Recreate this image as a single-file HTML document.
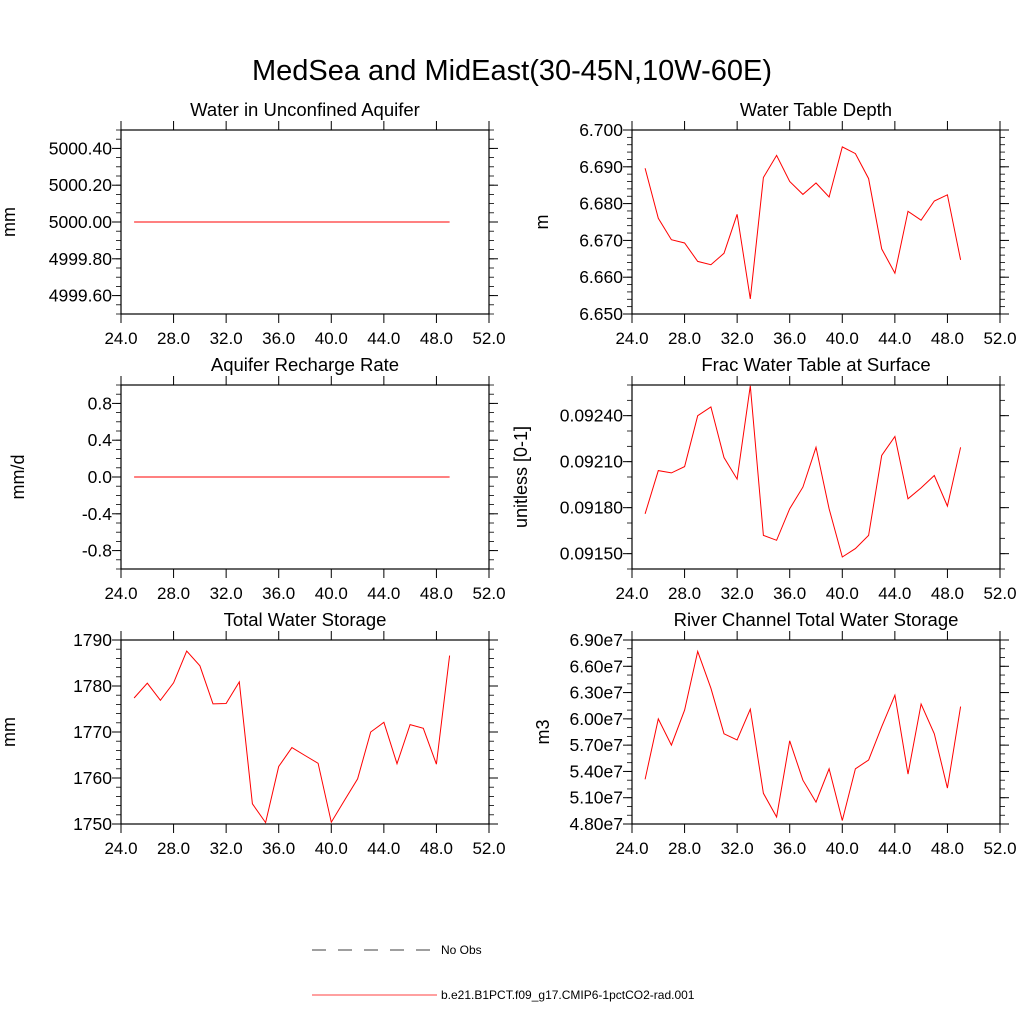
<!DOCTYPE html>
<html><head><meta charset="utf-8"><style>
body{margin:0;background:#fff;}
svg{font-family:"Liberation Sans",sans-serif;}
</style></head><body>
<svg id="c" width="1024" height="1024" viewBox="0 0 1024 1024">
<text x="512" y="80" text-anchor="middle" font-size="29">MedSea and MidEast(30-45N,10W-60E)</text>
<g>
<line x1="312" y1="950" x2="437" y2="950" stroke="#000" stroke-width="0.8" stroke-dasharray="14,12"/>
<text x="441" y="954" font-size="12">No Obs</text>
<line x1="312" y1="995" x2="437" y2="995" stroke="red" stroke-width="0.8"/>
<text x="441" y="999" font-size="12">b.e21.B1PCT.f09_g17.CMIP6-1pctCO2-rad.001</text>
</g>
</svg>
<script>
const years=[25,26,27,28,29,30,31,32,33,34,35,36,37,38,39,40,41,42,43,44,45,46,47,48,49];
const xTicks=[24,28,32,36,40,44,48,52];
const unconfined=[5000,5000,5000,5000,5000,5000,5000,5000,5000,5000,5000,5000,5000,5000,5000,5000,5000,5000,5000,5000,5000,5000,5000,5000,5000];
const unconfinedTicks=[4999.6,4999.8,5000.0,5000.2,5000.4];
const wtd=[6.6896,6.6760,6.6702,6.6693,6.6643,6.6634,6.6665,6.6771,6.6541,6.6871,6.6931,6.6860,6.6825,6.6856,6.6818,6.6954,6.6936,6.6868,6.6677,6.6611,6.6779,6.6755,6.6807,6.6824,6.6647];
const wtdTicks=[6.650,6.660,6.670,6.680,6.690,6.700];
const recharge=[0,0,0,0,0,0,0,0,0,0,0,0,0,0,0,0,0,0,0,0,0,0,0,0,0];
const rechargeTicks=[-0.8,-0.4,0.0,0.4,0.8];
const fracWt=[0.091760,0.092042,0.092027,0.092068,0.092400,0.092457,0.092127,0.091986,0.092595,0.091619,0.091587,0.091793,0.091934,0.092194,0.091793,0.091478,0.091533,0.091619,0.092140,0.092264,0.091858,0.091929,0.092010,0.091810,0.092194];
const fracTicks=[0.0915,0.0918,0.0921,0.0924];
const tws=[1777.4,1780.6,1776.9,1780.7,1787.6,1784.4,1776.1,1776.2,1780.9,1754.4,1750.3,1762.5,1766.6,1764.9,1763.2,1750.4,1755.1,1759.8,1770.0,1772.1,1763.1,1771.6,1770.8,1763.0,1786.6];
const twsTicks=[1750,1760,1770,1780,1790];
const river=[5.31,6.00,5.70,6.10,6.77,6.35,5.83,5.76,6.11,5.15,4.88,5.75,5.30,5.05,5.43,4.84,5.43,5.53,5.91,6.27,5.37,6.17,5.83,5.21,6.14];
const riverTicks=[4.8,5.1,5.4,5.7,6.0,6.3,6.6,6.9];

const NS="http://www.w3.org/2000/svg";
const svg=document.getElementById('c');
function mk(tag,attrs,parent){const e=document.createElementNS(NS,tag);for(const k in attrs)e.setAttribute(k,attrs[k]);(parent||svg).appendChild(e);return e;}

const panels=[
 {key:'unconfined-aquifer',title:'Water in Unconfined Aquifer',ylab:'mm',yx:15,data:unconfined,ticks:unconfinedTicks,ymin:4999.5,ymax:5000.5,minor:0.05,fmt:v=>v.toFixed(2),x0:121,y0:130},
 {key:'water-table-depth',title:'Water Table Depth',ylab:'m',yx:548,data:wtd,ticks:wtdTicks,ymin:6.65,ymax:6.70,minor:0.002,fmt:v=>v.toFixed(3),x0:632,y0:130},
 {key:'recharge-rate',title:'Aquifer Recharge Rate',ylab:'mm/d',yx:24,data:recharge,ticks:rechargeTicks,ymin:-1,ymax:1,minor:0.1,fmt:v=>v.toFixed(1),x0:121,y0:385},
 {key:'frac-water-table',title:'Frac Water Table at Surface',ylab:'unitless [0-1]',yx:527,data:fracWt,ticks:fracTicks,ymin:0.0914,ymax:0.0926,minor:0.0001,fmt:v=>v.toFixed(5),x0:632,y0:385},
 {key:'total-water-storage',title:'Total Water Storage',ylab:'mm',yx:15,data:tws,ticks:twsTicks,ymin:1750,ymax:1790,minor:2,fmt:v=>v.toFixed(0),x0:121,y0:640},
 {key:'river-channel-storage',title:'River Channel Total Water Storage',ylab:'m3',yx:549,data:river,ticks:riverTicks,ymin:4.8,ymax:6.9,minor:0.1,fmt:v=>v.toFixed(2)+'e7',x0:632,y0:640}
];
const W=368,H=184;
panels.forEach(p=>{
 const g=mk('g',{});
 
 
 const xs=v=>p.x0+(v-24)/28*W;
 const ys=v=>p.y0+H-(v-p.ymin)/(p.ymax-p.ymin)*H;
 const t=mk('text',{x:p.x0+W/2,y:p.y0-14,'text-anchor':'middle','font-size':18.5},g);
 t.textContent=p.title;
 
 
 const yl=mk('text',{x:0,y:0,'text-anchor':'middle','font-size':18,transform:`translate(${p.yx},${p.y0+H/2}) rotate(-90)`},g);
 yl.textContent=p.ylab;
 
 
 const n=Math.round((p.ymax-p.ymin)/p.minor);
 for(let i=0;i<=n;i++){const v=p.ymin+i*p.minor;const y=ys(v);
  mk('line',{x1:p.x0-5,x2:p.x0,y1:y,y2:y,stroke:'#000','stroke-width':0.8},g);
  mk('line',{x1:p.x0+W,x2:p.x0+W+5,y1:y,y2:y,stroke:'#000','stroke-width':0.8},g);}
 p.ticks.forEach(v=>{const y=ys(v);
  mk('line',{x1:p.x0-9,x2:p.x0,y1:y,y2:y,stroke:'#000','stroke-width':1},g);
  mk('line',{x1:p.x0+W,x2:p.x0+W+9,y1:y,y2:y,stroke:'#000','stroke-width':1},g);
  const tl=mk('text',{x:p.x0-9,y:y+6,'text-anchor':'end','font-size':17.5},g);
  tl.textContent=p.fmt(v);
  
  });
 xTicks.forEach(v=>{const x=xs(v);
  mk('line',{x1:x,x2:x,y1:p.y0-9,y2:p.y0,stroke:'#000','stroke-width':1},g);
  mk('line',{x1:x,x2:x,y1:p.y0+H,y2:p.y0+H+9,stroke:'#000','stroke-width':1},g);
  const tl=mk('text',{x:x,y:p.y0+H+30,'text-anchor':'middle','font-size':17},g);
  tl.textContent=v.toFixed(1);
  
  });
 const fr=mk('rect',{x:p.x0,y:p.y0,width:W,height:H,fill:'none',stroke:'#000','stroke-width':1.2},g);
 
 
 const pts=p.data.map((v,i)=>xs(years[i]).toFixed(1)+','+ys(v).toFixed(1)).join(' ');
 const pl=mk('polyline',{points:pts,fill:'none',stroke:'red','stroke-width':1},g);
 
 
});
</script>
</body></html>
